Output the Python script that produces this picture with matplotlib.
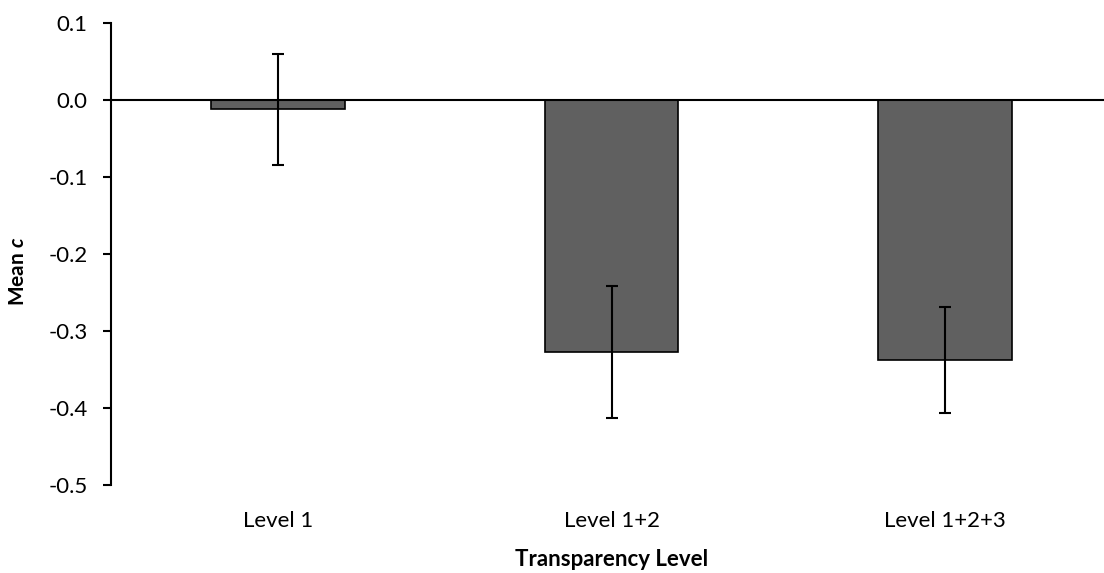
import matplotlib
matplotlib.use("Agg")
import matplotlib.pyplot as plt

categories = ["Level 1", "Level 1+2", "Level 1+2+3"]
means = [-0.012, -0.327, -0.338]
errors = [0.072, 0.086, 0.069]
yticks = [0.1, 0.0, -0.1, -0.2, -0.3, -0.4, -0.5]

plt.rcParams['font.family'] = ['Lato', 'DejaVu Sans']
plt.rcParams['mathtext.fontset'] = 'custom'
plt.rcParams['mathtext.bf'] = 'Lato:bold'
plt.rcParams['mathtext.bfit'] = 'Lato:italic:bold'
plt.rcParams['mathtext.it'] = 'Lato:italic'
plt.rcParams['mathtext.rm'] = 'Lato'

fig = plt.figure(figsize=(11.04, 5.73), dpi=100)
W, H = 1104, 573
left, right = 111.25 / W, 1112 / W
top, bottom = 23.3 / H, 485 / H
ax = fig.add_axes([left, 1 - bottom, right - left, bottom - top])

x = list(range(len(categories)))
ax.bar(x, means, width=0.4, color='#606060', edgecolor='black', linewidth=1.2, zorder=2)
ax.errorbar(x, means, yerr=errors, fmt='none', ecolor='black', elinewidth=1.5,
            capsize=4.5, capthick=1.5, zorder=3)
ax.axhline(0, color='black', linewidth=1.5, zorder=4)

ax.set_xlim(-0.5, 2.5)
ax.set_ylim(-0.5, 0.1)
ax.set_yticks(yticks)
ax.set_yticklabels([f"{v:.1f}" for v in yticks])
ax.set_xticks(x)
ax.set_xticklabels(categories)

for s in ['top', 'right', 'bottom']:
    ax.spines[s].set_visible(False)
ax.spines['left'].set_linewidth(1.5)
ax.tick_params(axis='y', direction='out', length=6, width=1.5, labelsize=16, pad=11)
ax.tick_params(axis='x', length=0, labelsize=16, pad=19)

ax.set_xlabel("Transparency Level", fontsize=16, fontweight='bold', labelpad=13)
ax.set_ylabel(r"$\mathbf{Mean}\ \mathbfit{c}$", fontsize=15)
ax.yaxis.set_label_coords(28 / W, 1 - 271 / H, transform=fig.transFigure)

fig.savefig("out.png", dpi=100)
